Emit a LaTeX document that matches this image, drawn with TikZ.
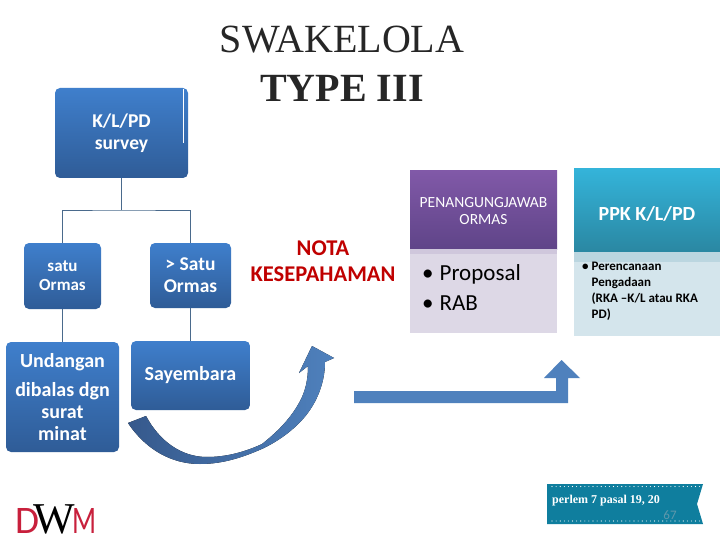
\documentclass[tikz,border=0pt]{standalone}
\usepackage{fontspec}
\setmainfont{Carlito}
\newfontfamily\serifface{Liberation Serif}
\definecolor{bluetop}{HTML}{3F7FCC}
\definecolor{bluebot}{HTML}{2F5C97}
\definecolor{arrowblue}{HTML}{4F81BD}
\definecolor{arrowdark}{HTML}{36598C}
\definecolor{linecol}{HTML}{4A6A8C}
\definecolor{purptop}{HTML}{8159A8}
\definecolor{purpbot}{HTML}{5F4488}
\definecolor{purpbody}{HTML}{DDD8E6}
\definecolor{purpband}{HTML}{CFC7DC}
\definecolor{tealtop}{HTML}{34B4DA}
\definecolor{tealbot}{HTML}{2A87A2}
\definecolor{tealbody}{HTML}{D4E5EC}
\definecolor{tealband}{HTML}{BBD6E0}
\definecolor{bannercol}{HTML}{0F7E9E}
\definecolor{logored}{HTML}{C8203C}
\definecolor{notared}{HTML}{C00000}
\definecolor{pagecol}{HTML}{5F98AB}
\tikzset{
  orgbox/.style={rounded corners=5pt,top color=bluetop,bottom color=bluebot,draw=none,
    text=white,align=center,inner sep=0pt},
  link/.style={draw=linecol,line width=0.8pt},
  head/.style={anchor=north west,inner sep=0pt,text=white,align=center},
  bodytext/.style={anchor=west,inner sep=0pt,align=left,text=black},
}
\begin{document}
\begin{tikzpicture}[x=1pt,y=-1pt]
\useasboundingbox (0,0) rectangle (720,540);
\fill[white] (0,0) rectangle (720,540);
% titles
\node[font=\serifface\fontsize{40}{40}\selectfont,text=black!85,inner sep=0pt] (title1) at (342,40) {SWAKELOLA};
\node[font=\serifface\bfseries\fontsize{40}{40}\selectfont,text=black!85,inner sep=0pt] (title2) at (342,88) {TYPE III};
% org boxes
\node[orgbox,minimum width=133pt,minimum height=90pt,font=\bfseries\fontsize{19.5}{22}\selectfont] (kl) at (121.5,133) {K/L/PD\\survey};
\draw[white,line width=0.9pt] (183.5,89) -- (183.5,143);
\node[orgbox,minimum width=77pt,minimum height=66pt,font=\bfseries\fontsize{17}{19}\selectfont] (satu) at (62.5,276) {satu\\Ormas};
\node[orgbox,minimum width=81pt,minimum height=65pt,font=\bfseries\fontsize{19.5}{22}\selectfont] (lebih) at (190.5,275.5) {> Satu\\Ormas};
\node[orgbox,minimum width=113pt,minimum height=110pt,font=\bfseries\fontsize{20}{22}\selectfont] (undangan) at (62.5,397) {Undangan\\[7pt]dibalas dgn\\surat\\minat};
\node[orgbox,minimum width=119pt,minimum height=69pt,font=\bfseries\fontsize{20}{22}\selectfont] (sayembara) at (190.5,375.5) {Sayembara};
% tree
\coordinate (fork) at (121.5,210);
\draw[link] (kl.south) -- (fork);
\draw[link] (satu.north) |- (fork) -| (lebih.north);
\draw[link] (satu.south) -- (undangan.north);
\draw[link] (lebih.south) -- (sayembara.north);
% nota
\node[font=\bfseries\fontsize{22.5}{26}\selectfont,text=notared,align=center,inner sep=0pt] (nota) at (323,261) {NOTA\\KESEPAHAMAN};
% purple column
\node[head,minimum width=147pt,minimum height=79pt,top color=purptop,bottom color=purpbot] (pj) at (410,170) {};
\node[inner sep=0pt,text=white,align=center,font=\fontsize{15.5}{16.5}\selectfont] (pjlabel) at (483.5,211) {PENANGUNGJAWAB\\ORMAS};
\node[anchor=north west,inner sep=0pt,minimum width=147pt,minimum height=84pt,fill=purpbody] (pjbody) at (410,249) {};
\fill[purpband] (pjbody.north west) rectangle ++(147,5);
\node[bodytext,font=\fontsize{23}{30}\selectfont] (pjtext) at (422,288) {\textbullet\hspace{6pt}Proposal\\\textbullet\hspace{6pt}RAB};
% teal column
\node[head,minimum width=146pt,minimum height=84pt,top color=tealtop,bottom color=tealbot] (ppk) at (574,168) {};
\node[inner sep=0pt,text=white,font=\bfseries\fontsize{20}{22}\selectfont] (ppklabel) at (647,214) {PPK K/L/PD};
\node[anchor=north west,inner sep=0pt,minimum width=146pt,minimum height=84pt,fill=tealbody] (ppkbody) at (574,252) {};
\fill[tealband] (ppkbody.north west) rectangle ++(146,10);
\node[bodytext,font=\bfseries\fontsize{13}{16}\selectfont] (ppktext) at (582,291) {\textbullet\hspace{3pt}Perencanaan\\\phantom{\textbullet}\hspace{3pt}Pengadaan\\\phantom{\textbullet}\hspace{3pt}(RKA –K/L atau RKA\\\phantom{\textbullet}\hspace{3pt}PD)};
% curved arrow
\fill[left color=arrowdark,right color=arrowblue] (128,423)
  .. controls (146,450) and (172,464) .. (200,464)
  .. controls (225,464) and (246,456) .. (264,448)
  .. controls (280,440) and (293,430) .. (302,420)
  .. controls (315,406) and (325,385) .. (325,362)
  -- (334,358) -- (312,346) -- (299,373) -- (308,366)
  .. controls (308,378) and (306,388) .. (302,397)
  .. controls (296,410) and (285,426) .. (262,444)
  .. controls (245,452) and (226,457) .. (207,457)
  .. controls (182,457) and (160,442) .. (146,416) -- cycle;
% bent arrow
\fill[arrowblue] (354,391) -- (556,391) -- (556,378) -- (544,378) -- (561.5,360) -- (580,378) -- (568,378) -- (568,403) -- (354,403) -- cycle;
% banner
\fill[bannercol] (547,484) -- (703,484) -- (697,504) -- (703,524) -- (547,524) -- cycle;
\draw[white,line width=1.1pt,line cap=round,dash pattern=on 0pt off 4.1pt] (552,486.5) -- (701,486.5);
\draw[white,line width=1.1pt,line cap=round,dash pattern=on 0pt off 4.1pt] (552,521) -- (701,521);
\node[anchor=west,inner sep=0pt,text=white,font=\serifface\bfseries\fontsize{12}{14}\selectfont] (banner) at (552,501) {perlem 7 pasal 19, 20};
\node[inner sep=0pt,text=pagecol,font=\fontsize{13}{14}\selectfont] (page) at (670,515.5) {67};
% logo
\node[anchor=center,inner sep=0pt,text=logored,xscale=1.0,font=\fontsize{39}{39}\selectfont] (logod) at (27,521) {D};
\node[anchor=center,inner sep=0pt,text=black,font=\serifface\fontsize{44}{44}\selectfont] (logow) at (54,519.5) {W};
\node[anchor=center,inner sep=0pt,text=logored,xscale=0.72,font=\fontsize{39}{39}\selectfont] (logom) at (85,521) {M};
\end{tikzpicture}
\end{document}
